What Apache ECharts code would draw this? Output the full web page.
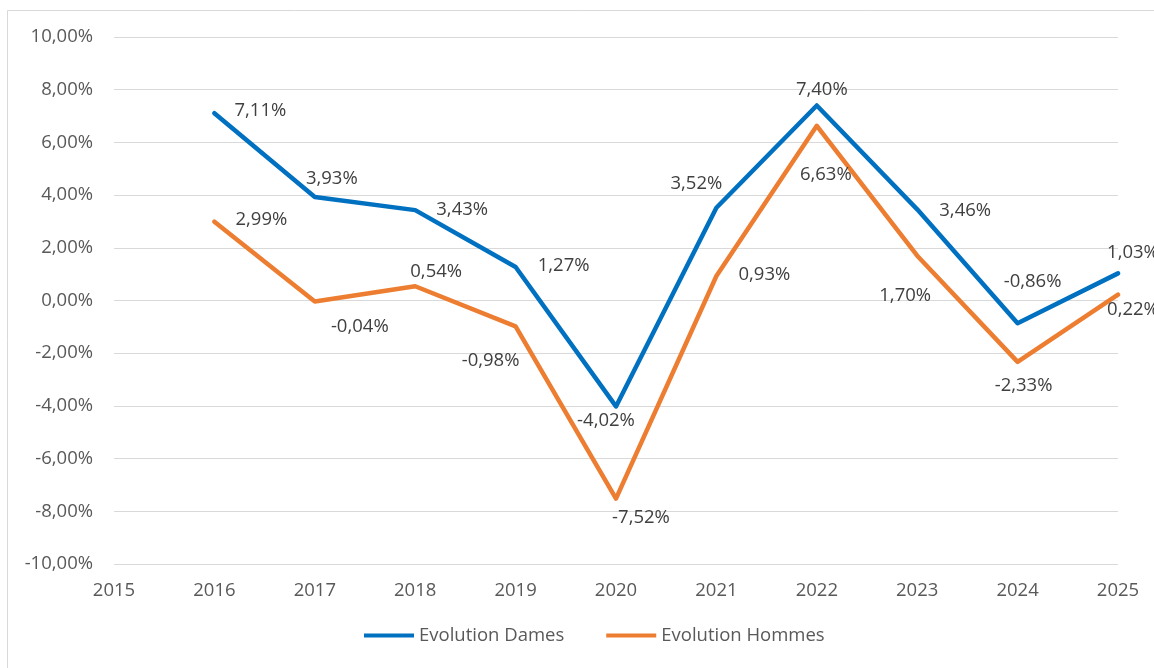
<!DOCTYPE html>
<html>
<head>
<meta charset="utf-8">
<script src="https://cdn.jsdelivr.net/npm/echarts@6/dist/echarts.min.js"></script>
<style>
html,body{margin:0;padding:0;background:#fff;}
#chart{width:1154px;height:668px;}
</style>
</head>
<body>
<div id="chart"></div>
<script>
// Data
const years = [2016, 2017, 2018, 2019, 2020, 2021, 2022, 2023, 2024, 2025];
const dames = [7.11, 3.93, 3.43, 1.27, -4.02, 3.52, 7.40, 3.46, -0.86, 1.03];
const hommes = [2.99, -0.04, 0.54, -0.98, -7.52, 0.93, 6.63, 1.70, -2.33, 0.22];
const seriesNames = ['Evolution Dames', 'Evolution Hommes'];

// Label placement (offsets of label centre from the point)
const damesLabelOffsets = [[46,-2],[17,-18],[47,0],[48,-1],[-10,14],[-20,-24],[5,-16],[48,1],[15,-41],[15,-21]];
const hommesLabelOffsets = [[47,-2],[45,25],[21,-15],[-25,34],[25,19],[48,-1],[9,49],[-12,40],[6,24],[15,15]];

const FONT = 'Open Sans';
const FS = 18.5;
const fmtPct = v => v.toFixed(2).replace('.', ',') + '%';

function buildData(vals, offs) {
  return years.map((y, i) => ({
    value: [y, vals[i]],
    label: { offset: offs[i] }
  }));
}

function makeSeries(name, vals, offs, color) {
  return {
    name: name,
    type: 'line',
    data: buildData(vals, offs),
    symbol: 'circle',
    symbolSize: 0.1,
    showSymbol: true,
    lineStyle: { color: color, width: 4.5, cap: 'round', join: 'round' },
    itemStyle: { color: color },
    emphasis: { disabled: true },
    animation: false,
    label: {
      show: true,
      position: 'inside',
      color: '#404040',
      fontFamily: FONT,
      fontSize: FS,
      formatter: p => fmtPct(p.value[1])
    }
  };
}

const chart = echarts.init(document.getElementById('chart'), null, { renderer: 'canvas' });
chart.setOption({
  backgroundColor: '#ffffff',
  animation: false,
  graphic: [{
    type: 'rect',
    shape: { x: 7.5, y: 10.5, width: 1300, height: 800 },
    style: { fill: 'none', stroke: '#d9d9d9', lineWidth: 1 },
    silent: true,
    z: -10
  }],
  grid: { left: 114, right: 36, top: 37, bottom: 104, containLabel: false },
  legend: {
    bottom: 18,
    left: 359,
    icon: 'rect',
    itemWidth: 50,
    itemHeight: 4,
    itemGap: 42,
    textStyle: { color: '#595959', fontFamily: FONT, fontSize: FS },
    data: seriesNames
  },
  xAxis: {
    type: 'value',
    min: 2015,
    max: 2025,
    interval: 1,
    axisLine: { show: false },
    axisTick: { show: false },
    splitLine: { show: false },
    axisLabel: {
      color: '#595959',
      fontFamily: FONT,
      fontSize: FS,
      margin: 17,
      formatter: v => String(v)
    }
  },
  yAxis: {
    type: 'value',
    min: -10,
    max: 10,
    interval: 2,
    axisLine: { show: false },
    axisTick: { show: false },
    splitLine: { lineStyle: { color: '#d9d9d9', width: 1 } },
    axisLabel: {
      color: '#595959',
      fontFamily: FONT,
      fontSize: FS,
      margin: 21,
      formatter: v => fmtPct(v)
    }
  },
  series: [
    makeSeries(seriesNames[0], dames, damesLabelOffsets, '#0070C0'),
    makeSeries(seriesNames[1], hommes, hommesLabelOffsets, '#ED7D31')
  ]
});
</script>
</body>
</html>
